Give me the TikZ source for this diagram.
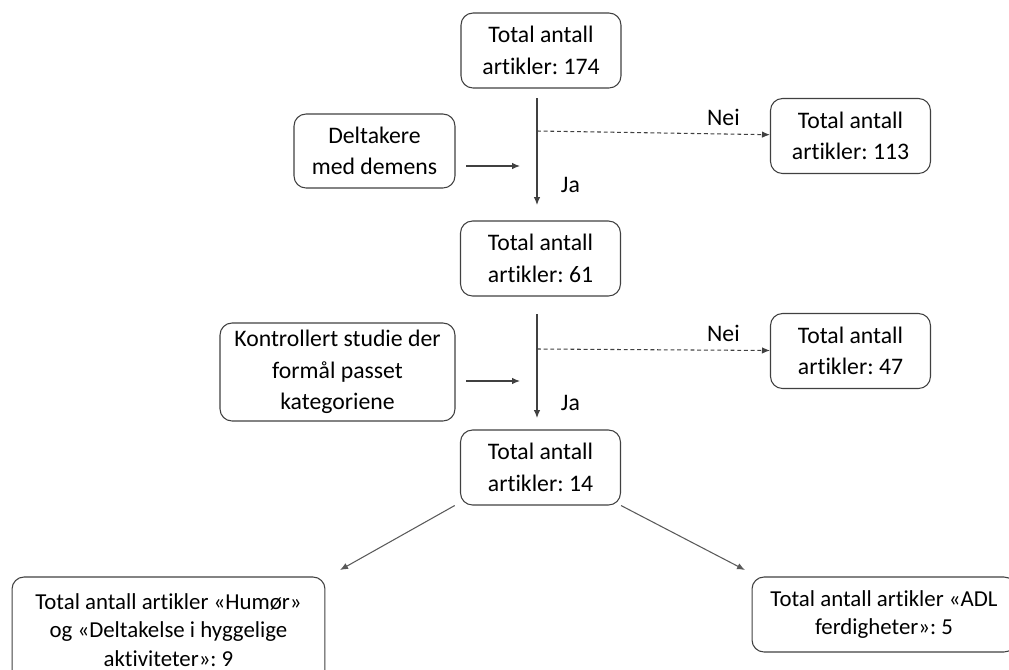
\documentclass[tikz,border=0pt]{standalone}
\usepackage{fontspec}
\setmainfont[Ligatures={NoCommon}]{Carlito}
\usetikzlibrary{arrows.meta}
\frenchspacing

\begin{document}
\begin{tikzpicture}[x=0.02cm, y=-0.02cm,
  box/.style={draw=black!75, rounded corners=2.4mm, align=center, inner sep=0pt, line width=0.6pt},
  tip/.style={-{Latex[length=1.6mm,width=1.3mm]}, line width=0.6pt, black!75},
  every node/.style={font=\fontsize{13.5}{18}\selectfont},
  small/.style={font=\fontsize{13}{16.4}\selectfont}]

\def \boxw {3.2cm}
\def \boxh {1.5cm}

\useasboundingbox (0,0) rectangle (1009,670);

% main column
\node (tot0) [box, minimum width=\boxw, minimum height=\boxh] at (541,50.5) {Total antall\\artikler: 174};
\node (tot1) [box, minimum width=\boxw, minimum height=\boxh] at (540.5,258.5) {Total antall\\artikler: 61};
\node (tot2) [box, minimum width=\boxw, minimum height=\boxh] at (540.5,467.5) {Total antall\\artikler: 14};

% criteria
\node (krit1) [box, minimum width=3.22cm, minimum height=1.48cm] at (374.5,151) {Deltakere\\med demens};
\node (krit2) [box, minimum width=4.7cm, minimum height=1.96cm] at (337.5,372) {Kontrollert studie der\\formål passet\\kategoriene};

% excluded
\node (nei1) [box, minimum width=\boxw, minimum height=\boxh] at (850.5,136) {Total antall\\artikler: 113};
\node (nei2) [box, minimum width=\boxw, minimum height=\boxh] at (850.5,351) {Total antall\\artikler: 47};

% results
\node (res1) [box, small, minimum width=6.26cm, minimum height=2.12cm] at (168.5,630) {Total antall artikler «Humør»\\og «Deltakelse i hyggelige\\aktiviteter»: 9};
\node (res2) [box, small, minimum width=5.28cm, minimum height=\boxh] at (884,614.5) {Total antall artikler «ADL\\ferdigheter»: 5};

\coordinate (top1) at (537,98);
\coordinate (bot1) at (537,205);
\coordinate (split1) at (537,131);
\coordinate (in1) at (520,166);
\coordinate (top2) at (537,314);
\coordinate (bot2) at (537,418);
\coordinate (split2) at (537,349);
\coordinate (in2) at (520,381);
\coordinate (d1) at (340,570);
\coordinate (d2) at (745,570);

\foreach \i/\p in {1/.81, 2/.86}
{
  \draw[tip] (top\i) -- node[pos=\p, right=10pt, black] {Ja} (bot\i);
  \draw[tip, dash pattern=on 2.2pt off 1.6pt] (split\i) -- node[pos=.8, above=1pt, black] {Nei} (nei\i);
  \draw[tip, shorten <=6pt] (krit\i.east |- in\i) -- (in\i);
}

\draw[tip, black!65] ([xshift=-3pt]tot2.south west) -- (d1);
\draw[tip, black!65] (tot2.south east) -- (d2);

\end{tikzpicture}
\end{document}
